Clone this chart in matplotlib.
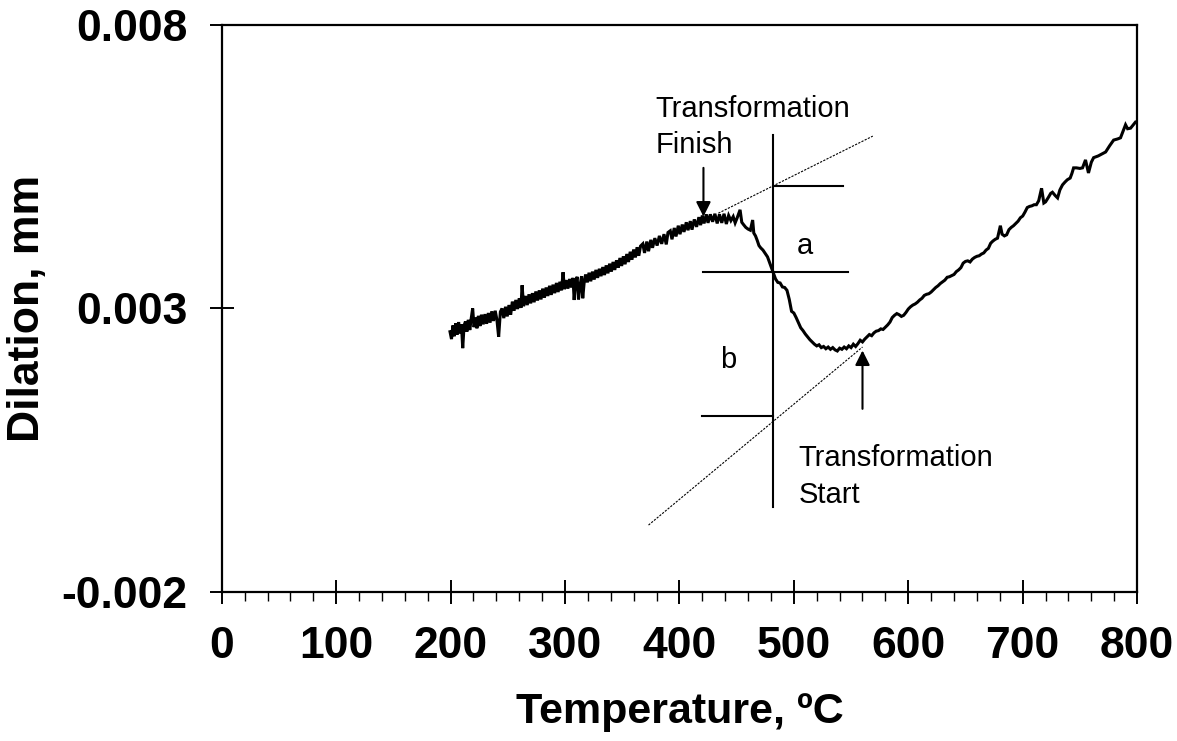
import numpy as np
import matplotlib
matplotlib.use("Agg")
import matplotlib.pyplot as plt
from matplotlib.ticker import MultipleLocator

plt.rcParams['font.family'] = ['Liberation Sans', 'DejaVu Sans']

# dilation curve (temperature in degC, dilation in mm)
TEMP = [
    199.5, 200.8, 202.0, 203.2, 204.5, 205.8, 207.0, 208.3, 209.5, 210.6,
    211.8, 213.0, 214.2, 215.5, 216.8, 218.0, 219.3, 220.5, 221.8, 223.0,
    224.3, 225.7, 227.0, 228.5, 230.0, 231.5, 233.0, 234.5, 236.0, 237.5,
    239.0, 240.5, 242.0, 243.5, 245.0, 246.5, 248.0, 249.5, 251.0, 252.5,
    254.0, 255.5, 257.0, 258.5, 260.0, 261.5, 262.5, 263.8, 265.5, 267.0,
    268.5, 270.0, 271.5, 273.0, 274.5, 276.0, 277.5, 279.0, 280.5, 282.0,
    283.5, 285.0, 286.5, 288.0, 289.5, 291.0, 292.5, 294.0, 295.5, 297.0,
    298.3, 299.5, 301.0, 302.5, 304.0, 305.5, 307.0, 308.0, 309.0, 310.6,
    311.8, 313.2, 314.5, 315.5, 316.7, 318.0, 319.5, 321.0, 322.5, 324.0,
    325.5, 327.0, 328.5, 330.0, 331.5, 333.0, 334.5, 336.0, 337.5, 339.0,
    340.5, 342.0, 343.5, 345.0, 346.5, 348.0, 349.5, 351.0, 352.5, 354.0,
    355.5, 357.0, 358.5, 360.0, 361.5, 363.0, 364.5, 366.0, 368.0, 369.5,
    371.5, 373.0, 375.0, 376.5, 378.5, 380.5, 382.5, 384.5, 386.5, 388.5,
    390.0, 392.0, 393.5, 395.5, 397.0, 399.0, 400.5, 402.5, 404.0, 406.0,
    407.5, 409.5, 411.0, 413.0, 415.0, 417.0, 418.5, 420.0, 421.5, 423.5,
    425.0, 427.0, 429.0, 431.0, 433.0, 435.0, 437.0, 439.0, 441.0, 443.0,
    445.0, 447.0, 448.7, 450.5, 453.0, 454.5, 456.0, 458.0, 460.0, 462.0,
    464.0, 465.0, 466.5, 468.0, 469.5, 471.0, 473.0, 475.0, 477.0, 479.0,
    480.5, 482.0, 484.0, 486.0, 488.0, 490.0, 492.0, 494.0, 496.0, 498.0,
    500.0, 502.0, 504.0, 506.0, 508.0, 510.0, 512.0, 514.0, 516.0, 518.0,
    520.0, 522.0, 524.0, 526.0, 528.0, 530.0, 532.0, 534.0, 536.0, 538.0,
    540.0, 542.0, 544.0, 546.0, 548.0, 550.0, 552.0, 554.0, 556.0, 558.0,
    560.0, 562.0, 564.0, 566.0, 568.0, 570.0, 572.0, 574.0, 576.0, 578.0,
    580.0, 582.0, 584.0, 586.0, 588.0, 590.0, 592.0, 594.0, 596.0, 598.0,
    600.0, 602.0, 604.0, 606.0, 608.0, 610.0, 612.0, 614.0, 616.0, 618.0,
    620.0, 622.0, 624.0, 626.0, 628.0, 630.0, 632.0, 634.0, 636.0, 638.0,
    640.0, 642.0, 644.0, 646.0, 648.0, 650.0, 652.0, 654.0, 656.0, 658.0,
    660.0, 662.0, 664.0, 666.0, 668.0, 670.0, 672.0, 674.0, 676.0, 678.0,
    680.5, 682.0, 684.0, 686.0, 688.0, 690.0, 692.0, 694.0, 696.0, 698.0,
    700.0, 702.0, 704.0, 706.0, 708.0, 710.0, 712.0, 714.0, 716.5, 718.5,
    720.0, 722.5, 724.5, 726.0, 728.5, 730.5, 732.5, 734.8, 737.0, 739.0,
    741.5, 743.0, 744.5, 747.0, 750.0, 752.3, 754.9, 757.5, 760.0, 762.0,
    766.0, 770.5, 772.5, 776.0, 779.5, 783.0, 785.5, 789.9, 791.7, 794.3,
    798.7, 800.0,
]
DILATION = [
    0.00259, 0.00246, 0.00270, 0.00251, 0.00274, 0.00254, 0.00276, 0.00256, 0.00272, 0.00230,
    0.00270, 0.00277, 0.00259, 0.00280, 0.00262, 0.00282, 0.00300, 0.00267, 0.00284, 0.00265,
    0.00287, 0.00269, 0.00289, 0.00272, 0.00290, 0.00273, 0.00292, 0.00275, 0.00295, 0.00278,
    0.00296, 0.00280, 0.00250, 0.00294, 0.00300, 0.00283, 0.00303, 0.00286, 0.00306, 0.00289,
    0.00312, 0.00296, 0.00315, 0.00299, 0.00318, 0.00301, 0.00341, 0.00304, 0.00322, 0.00306,
    0.00325, 0.00309, 0.00327, 0.00311, 0.00330, 0.00314, 0.00332, 0.00316, 0.00335, 0.00319,
    0.00337, 0.00322, 0.00340, 0.00324, 0.00342, 0.00327, 0.00345, 0.00329, 0.00347, 0.00332,
    0.00364, 0.00334, 0.00350, 0.00335, 0.00352, 0.00337, 0.00354, 0.00315, 0.00342, 0.00356,
    0.00316, 0.00341, 0.00357, 0.00318, 0.00345, 0.00360, 0.00346, 0.00363, 0.00348, 0.00365,
    0.00351, 0.00368, 0.00354, 0.00370, 0.00357, 0.00373, 0.00359, 0.00376, 0.00362, 0.00379,
    0.00365, 0.00382, 0.00368, 0.00385, 0.00372, 0.00389, 0.00375, 0.00392, 0.00378, 0.00396,
    0.00382, 0.00400, 0.00386, 0.00404, 0.00390, 0.00408, 0.00393, 0.00410, 0.00414, 0.00398,
    0.00418, 0.00401, 0.00421, 0.00407, 0.00424, 0.00411, 0.00428, 0.00414, 0.00431, 0.00413,
    0.00434, 0.00437, 0.00422, 0.00442, 0.00427, 0.00446, 0.00431, 0.00448, 0.00435, 0.00452,
    0.00438, 0.00454, 0.00439, 0.00457, 0.00444, 0.00461, 0.00447, 0.00464, 0.00450, 0.00466,
    0.00451, 0.00466, 0.00453, 0.00467, 0.00450, 0.00466, 0.00451, 0.00467, 0.00449, 0.00464,
    0.00455, 0.00462, 0.00451, 0.00460, 0.00474, 0.00452, 0.00448, 0.00443, 0.00440, 0.00438,
    0.00456, 0.00433, 0.00428, 0.00420, 0.00411, 0.00407, 0.00403, 0.00397, 0.00391, 0.00380,
    0.00372, 0.00364, 0.00352, 0.00346, 0.00345, 0.00338, 0.00337, 0.00332, 0.00316, 0.00295,
    0.00292, 0.00284, 0.00275, 0.00266, 0.00261, 0.00255, 0.00250, 0.00245, 0.00241, 0.00237,
    0.00234, 0.00236, 0.00231, 0.00233, 0.00229, 0.00232, 0.00228, 0.00231, 0.00227, 0.00225,
    0.00230, 0.00228, 0.00232, 0.00229, 0.00234, 0.00231, 0.00237, 0.00233, 0.00238, 0.00244,
    0.00241, 0.00246, 0.00250, 0.00254, 0.00252, 0.00257, 0.00260, 0.00261, 0.00264, 0.00263,
    0.00267, 0.00271, 0.00276, 0.00284, 0.00288, 0.00291, 0.00289, 0.00286, 0.00288, 0.00293,
    0.00299, 0.00303, 0.00306, 0.00308, 0.00311, 0.00315, 0.00318, 0.00323, 0.00325, 0.00326,
    0.00329, 0.00333, 0.00337, 0.00340, 0.00344, 0.00347, 0.00350, 0.00355, 0.00356, 0.00358,
    0.00360, 0.00365, 0.00368, 0.00372, 0.00380, 0.00383, 0.00384, 0.00382, 0.00387, 0.00390,
    0.00392, 0.00393, 0.00396, 0.00398, 0.00403, 0.00406, 0.00415, 0.00419, 0.00422, 0.00424,
    0.00446, 0.00431, 0.00428, 0.00430, 0.00439, 0.00443, 0.00446, 0.00450, 0.00454, 0.00460,
    0.00463, 0.00470, 0.00478, 0.00480, 0.00481, 0.00483, 0.00483, 0.00490, 0.00512, 0.00486,
    0.00488, 0.00496, 0.00503, 0.00505, 0.00499, 0.00495, 0.00509, 0.00518, 0.00523, 0.00527,
    0.00530, 0.00538, 0.00548, 0.00548, 0.00547, 0.00548, 0.00562, 0.00539, 0.00558, 0.00566,
    0.00569, 0.00574, 0.00576, 0.00587, 0.00597, 0.00599, 0.00601, 0.00624, 0.00617, 0.00618,
    0.00629, 0.00629,
]

X_TICKS = [0, 100, 200, 300, 400, 500, 600, 700, 800]
Y_TICKS = [-0.002, 0.003, 0.008]
Y_TICK_LABELS = ["-0.002", "0.003", "0.008"]

# construction lines of the lever-rule sketch
V_LINE_T = 482
V_LINE_D = (-0.0005, 0.00606)
H_LINES = [  # (t_start, t_end, dilation)
    (482, 543, 0.00516),
    (421, 547, 0.00364),
    (420, 482, 0.00110),
]
UPPER_TANGENT = ([434, 569], [0.00468, 0.00604])
LOWER_TANGENT = ([373, 560], [-0.00082, 0.00232])
FINISH_ARROW = ((421, 0.00548), (421, 0.00462))   # (tail, tip)
START_ARROW = ((560, 0.00123), (560, 0.00226))

fig = plt.figure(figsize=(11.77, 7.41), dpi=100)
ax = fig.add_axes([0.1884, 0.2011, 0.7777, 0.7652])

ax.plot(TEMP, DILATION, color="black", lw=2.2, solid_joinstyle="miter")

ax.plot([V_LINE_T, V_LINE_T], V_LINE_D, color="black", lw=1.5)
for t0, t1, d in H_LINES:
    ax.plot([t0, t1], [d, d], color="black", lw=1.5)
ax.plot(*UPPER_TANGENT, color="black", lw=0.8, ls=(0, (2, 1.2)))
ax.plot(*LOWER_TANGENT, color="black", lw=0.8, ls=(0, (2, 1.2)))

arrow_kw = dict(arrowstyle="-|>", color="black", lw=1.5, mutation_scale=22,
                shrinkA=0, shrinkB=0)
ax.annotate("", xy=FINISH_ARROW[1], xytext=FINISH_ARROW[0], arrowprops=arrow_kw)
ax.annotate("", xy=START_ARROW[1], xytext=START_ARROW[0], arrowprops=arrow_kw)

txt = dict(fontsize=21, color="black")
ax.text(379, 0.00620, "Transformation\nFinish", ha="left", va="center",
        linespacing=1.4, **txt)
ax.text(504, 0.00003, "Transformation\nStart", ha="left", va="center",
        linespacing=1.4, **txt)
ax.text(510, 0.00410, "a", ha="center", va="center", **txt)
ax.text(443, 0.00209, "b", ha="center", va="center", **txt)

ax.set_xlim(0, 800)
ax.set_ylim(-0.002, 0.008)
ax.set_xticks(X_TICKS)
ax.xaxis.set_minor_locator(MultipleLocator(20))
ax.set_yticks(Y_TICKS)
ax.set_yticklabels(Y_TICK_LABELS)

ax.tick_params(axis="both", which="major", direction="inout", length=17,
               width=1.4, labelsize=32)
ax.tick_params(axis="x", which="major", pad=16)
ax.tick_params(axis="y", which="major", pad=16)
ax.tick_params(axis="x", which="minor", direction="out", length=6.5, width=1.0)
for lbl in ax.get_xticklabels() + ax.get_yticklabels():
    lbl.set_fontweight("bold")
for s in ax.spines.values():
    s.set_linewidth(1.6)

ax.set_xlabel("Temperature, ºC", fontsize=31, fontweight="bold", labelpad=18)
ax.set_ylabel("Dilation, mm", fontsize=32, fontweight="bold", labelpad=10)

fig.savefig("out.png", dpi=100)
